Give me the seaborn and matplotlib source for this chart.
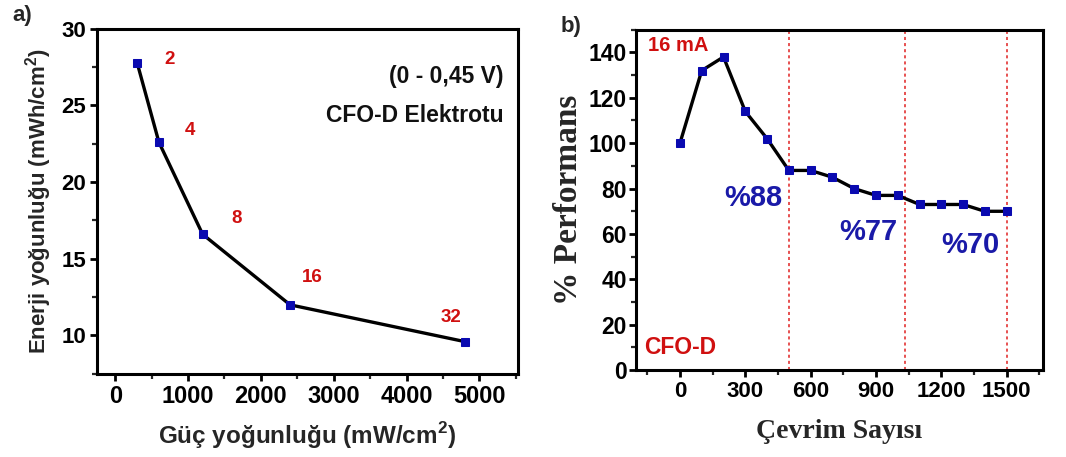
import numpy as np
import pandas as pd
import matplotlib
matplotlib.use("Agg")
import matplotlib.pyplot as plt
from matplotlib.ticker import MultipleLocator
import seaborn as sns

# ---- data ----
power_density = [300, 600, 1200, 2400, 4800]
energy_density = [27.8, 22.6, 16.6, 12.0, 9.6]
current_labels = ["2", "4", "8", "16", "32"]
current_label_x = [740, 1030, 1670, 2710, 4610]
current_label_y = [28.0, 23.4, 17.6, 13.8, 11.2]

cycles = [0, 100, 200, 300, 400, 500, 600, 700, 800, 900, 1000, 1100, 1200, 1300, 1400, 1500]
performance = [100, 132, 138, 114, 102, 88, 88, 85, 80, 77, 77, 73, 73, 73, 70, 70]
retention_cycles = [500, 1035, 1500]
retention_labels = ["%88", "%77", "%70"]
retention_label_x = [335, 867, 1335]
retention_label_y = [76, 61, 55]

sns.set_theme(style="ticks")
plt.rcParams['font.family'] = ['Liberation Sans', 'DejaVu Sans']
plt.rcParams['mathtext.fontset'] = 'custom'
plt.rcParams['mathtext.bf'] = 'Liberation Sans:bold'
plt.rcParams['mathtext.rm'] = 'Liberation Sans:bold'

RED = "#d01010"
BLUE = "#1a1aa8"
MK = "#0a0ab0"
SERIF = ["Liberation Serif", "DejaVu Serif"]

fig = plt.figure(figsize=(10.66, 4.57), dpi=100)
axa = fig.add_axes([0.091, 0.182, 0.395, 0.755])
axb = fig.add_axes([0.597, 0.190, 0.381, 0.745])

dfa = pd.DataFrame({"P": power_density, "E": energy_density})
sns.lineplot(data=dfa, x="P", y="E", ax=axa, color="black", lw=2.4,
             marker="s", markersize=5.5, markerfacecolor=MK, markeredgecolor=MK)
axa.set_xlim(-250, 5530)
axa.set_ylim(7.5, 30)
axa.xaxis.set_major_locator(MultipleLocator(1000))
axa.xaxis.set_minor_locator(MultipleLocator(500))
axa.yaxis.set_major_locator(MultipleLocator(5))
axa.yaxis.set_minor_locator(MultipleLocator(2.5))
axa.set_xlabel("Güç yoğunluğu (mW/cm$^{2}$)", fontsize=17.5, fontweight="bold", labelpad=9)
axa.set_ylabel("Enerji yoğunluğu (mWh/cm$^{2}$)", fontsize=16, fontweight="bold", labelpad=5)
for t, x, y in zip(current_labels, current_label_x, current_label_y):
    axa.text(x, y, t, color=RED, fontsize=13.5, fontweight="bold", ha="center", va="center")
axa.text(0.965, 0.862, "(0 - 0,45 V)", transform=axa.transAxes, ha="right", va="center",
         fontsize=16.5, fontweight="bold", color="#111111")
axa.text(0.965, 0.75, "CFO-D Elektrotu", transform=axa.transAxes, ha="right", va="center",
         fontsize=16.5, fontweight="bold", color="#111111")

dfb = pd.DataFrame({"c": cycles, "p": performance})
for xv in retention_cycles:
    axb.axvline(xv, color="#e02020", ls=(0, (2, 2)), lw=1.1, zorder=1)
sns.lineplot(data=dfb, x="c", y="p", ax=axb, color="black", lw=2.4,
             marker="s", markersize=5.5, markerfacecolor=MK, markeredgecolor=MK, zorder=3)
axb.set_xlim(-200, 1665)
axb.set_ylim(0, 150)
axb.xaxis.set_major_locator(MultipleLocator(300))
axb.xaxis.set_minor_locator(MultipleLocator(150))
axb.yaxis.set_major_locator(MultipleLocator(20))
axb.yaxis.set_minor_locator(MultipleLocator(10))
axb.set_xlabel("Çevrim Sayısı", fontsize=20, fontweight="bold", family=SERIF, labelpad=12)
axb.set_ylabel("% Performans", fontsize=24, fontweight="bold", family=SERIF, labelpad=3)
for t, x, y in zip(retention_labels, retention_label_x, retention_label_y):
    axb.text(x, y, t, color=BLUE, fontsize=21, fontweight="bold", ha="center", va="center")
axb.text(-10, 143, "16 mA", color=RED, fontsize=14.5, fontweight="bold", ha="center", va="center")
axb.text(0, 10, "CFO-D", color=RED, fontsize=16.5, fontweight="bold", ha="center", va="center")

for ax in (axa, axb):
    for s in ax.spines.values():
        s.set_visible(True)
        s.set_linewidth(2.2)
        s.set_color("black")
    ax.tick_params(which="major", direction="out", length=5, width=2, colors="black", pad=3)
    ax.tick_params(which="minor", direction="out", length=3.5, width=1.6)

axa.tick_params(axis="x", which="major", labelsize=17)
axa.tick_params(axis="y", which="major", labelsize=16)
axb.tick_params(axis="x", which="major", labelsize=16)
axb.tick_params(axis="y", which="major", labelsize=16.5, pad=2)
for ax in (axa, axb):
    for lab in ax.get_xticklabels() + ax.get_yticklabels():
        lab.set_fontweight("bold")

fig.text(0.021, 0.965, "a)", fontsize=16, fontweight="bold", ha="center", va="center")
fig.text(0.536, 0.942, "b)", fontsize=16, fontweight="bold", ha="center", va="center")

fig.savefig("out.png", dpi=100)
